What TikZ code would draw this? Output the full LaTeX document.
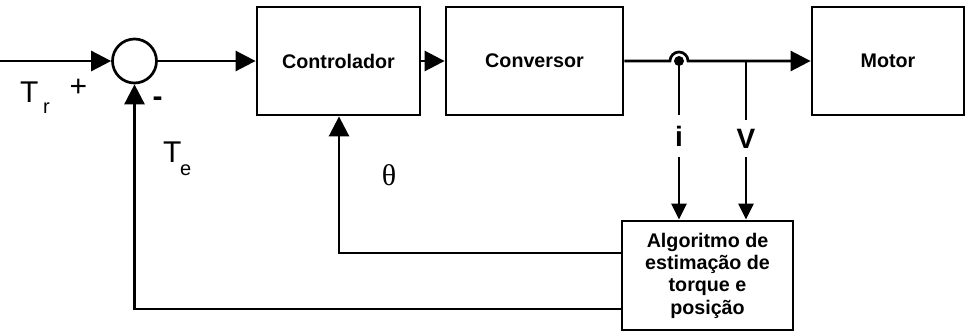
\documentclass[tikz,border=0pt]{standalone}
\usepackage{fontspec}
\setmainfont{Liberation Sans}
\newfontfamily\serifgr{Liberation Serif}
\usetikzlibrary{arrows.meta,calc}
\begin{document}
\begin{tikzpicture}[x=1pt,y=-1pt,
  blk/.style={draw,line width=2.8pt,inner sep=0pt,font=\fontsize{19.7}{22.4}\selectfont\bfseries,align=center},
  conn/.style={line width=2.7pt},
  big/.style={-{Triangle[length=20pt,width=20pt]}},
  small/.style={-{Triangle[length=16pt,width=15pt]}},
  lbl/.style={inner sep=0pt,font=\fontsize{30}{30}\selectfont},
  sublbl/.style={inner sep=0pt,font=\fontsize{20}{20}\selectfont},
  sig/.style={fill=white,font=\fontsize{28}{28}\selectfont\bfseries,text height=20pt,text depth=0pt,inner xsep=1pt},
]
\useasboundingbox (0,0) rectangle (965,333);

\node[blk,minimum width=163pt,minimum height=108pt] (ctrl) at (338.5,61) {Controlador};
\node[blk,minimum width=177pt,minimum height=108pt] (conv) at (534.5,61) {Conversor};
\node[blk,minimum width=152pt,minimum height=108pt] (motor) at (888,61) {Motor};
\node[blk,minimum width=171pt,minimum height=109pt] (alg) at (707.5,275.5) {Algoritmo de\\estimação de\\torque e\\posição};
\node[draw,circle,line width=2.7pt,minimum size=44pt,inner sep=0pt] (sum) at (134.5,61) {};

\coordinate (in) at (0,61);
\coordinate (dot) at (679,61);
\coordinate (vj) at (746,61);
\coordinate (th) at (339,253);
\coordinate (te) at (134.5,309);

\draw[conn,big] (in) -- (sum.west);
\draw[conn,big] (sum.east) -- (ctrl.west);
\draw[conn,big] (ctrl.east) -- (conv.west);
\draw[conn,big] (conv.east) -- ($(dot)+(-9,0)$) arc[start angle=180,end angle=0,radius=9pt] -- (motor.west);
\fill (dot) circle[radius=5pt];
\draw[conn,small] (dot) -- (dot |- alg.north);
\draw[conn,small] (vj) -- (vj |- alg.north);
\draw[conn,big] (alg.west |- th) -- (th) -- (th |- ctrl.south);
\draw[conn,big] (alg.west |- te) -- (te) -- (sum.south);

\node[sig,inner ysep=11pt] (li) at (679,136) {i};
\node[sig,inner ysep=8.5pt] (lv) at (746,138.5) {V};

\node[lbl,anchor=base west] (tr) at (20,102) {T};
\node[sublbl,anchor=base west] (trs) at (43,113) {r};
\node[lbl,anchor=base west] (tee) at (163,162) {T};
\node[sublbl,anchor=base west] (tes) at (180,175) {e};
\node[lbl] (plus) at (78.5,88) {+};
\node[lbl,font=\fontsize{30}{30}\selectfont\bfseries] (minus) at (157.5,102) {-};
\node[inner sep=0pt,font=\serifgr\fontsize{30}{30}\selectfont] (theta) at (389,175) {θ};
\end{tikzpicture}
\end{document}
